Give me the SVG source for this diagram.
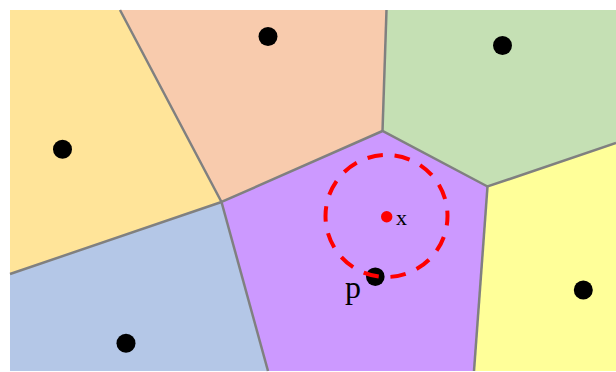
<svg xmlns="http://www.w3.org/2000/svg" width="616" height="372" viewBox="0 0 616 372">
<style>
.edge{stroke:#808080;stroke-width:2.5;stroke-linecap:butt;fill:none}
.site{fill:#000}
.lbl{font-family:"Liberation Serif","Times New Roman",serif;fill:#000}
</style>
<rect width="616" height="372" fill="#fff"/>
<g id="cell-yellow"><polygon fill="#FFE499" points="10,10 120,10 221.5,202 10,274"/><circle class="site" cx="62.5" cy="149.3" r="9.5"/></g>
<g id="cell-orange"><polygon fill="#F8CBAD" points="120,10 386.5,10 382.5,131 221.5,202"/><circle class="site" cx="268" cy="36.5" r="9.5"/></g>
<g id="cell-green"><polygon fill="#C5E0B4" points="386.5,10 616,10 616,143 487.5,186.5 382.5,131"/><circle class="site" cx="502.5" cy="45.5" r="9.5"/></g>
<g id="cell-blue"><polygon fill="#B4C7E7" points="10,274 221.5,202 268,371 10,371"/><circle class="site" cx="126" cy="343.3" r="9.5"/></g>
<g id="cell-lightyellow"><polygon fill="#FFFF99" points="487.5,186.5 616,143 616,371 474,371"/><circle class="site" cx="583.3" cy="290" r="9.5"/></g>
<g id="cell-purple"><polygon fill="#CC99FF" points="221.5,202 382.5,131 487.5,186.5 474,371 268,371"/><circle class="site" cx="375.3" cy="276.7" r="9.3"/></g>
<g id="edges">
<polyline class="edge" points="120,10 221.5,202 382.5,131 487.5,186.5 616,143"/>
<line class="edge" x1="10" y1="274" x2="221.5" y2="202"/>
<line class="edge" x1="221.5" y1="202" x2="268" y2="371"/>
<line class="edge" x1="386.5" y1="10" x2="382.5" y2="131"/>
<line class="edge" x1="487.5" y1="186.5" x2="474" y2="371"/>
</g>
<g id="query">
<circle cx="386.5" cy="216" r="61" fill="none" stroke="#FF0000" stroke-width="4" stroke-dasharray="15.5 11.876" stroke-dashoffset="6"/>
<circle cx="386.7" cy="216.7" r="5.7" fill="#FF0000"/>
<text class="lbl" x="396" y="225" font-size="22">x</text>
</g>
<g id="label-p"><text class="lbl" x="345" y="298" font-size="32">p</text></g>
</svg>
